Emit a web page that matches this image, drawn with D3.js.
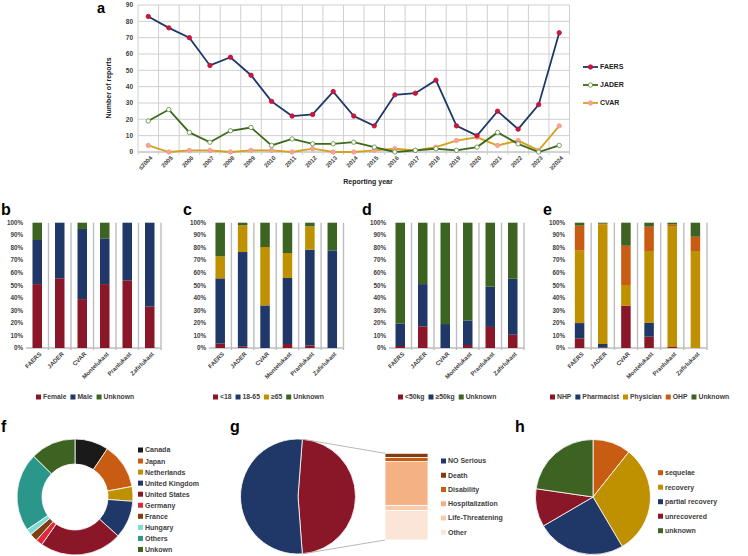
<!DOCTYPE html>
<html>
<head>
<meta charset="utf-8">
<script src="https://cdn.jsdelivr.net/npm/d3@7"></script>
<style>
  body { margin: 0; background: #fff; }
  svg { display: block; font-family: "Liberation Sans", Arial, sans-serif; font-weight: bold; }
</style>
</head>
<body>
<svg width="748" height="556"></svg>
<script>
// ---- data ----
const years = ["≤2004", "2005", "2006", "2007", "2008", "2009", "2010", "2011", "2012", "2013",
  "2014", "2015", "2016", "2017", "2018", "2019", "2020", "2021", "2022", "2023", "≥2024"];
const faersCounts = [83, 76, 70, 53, 58, 47, 31, 22, 23, 37, 22, 16, 35, 36, 44, 16, 10, 25, 14, 29, 73];
const jaderCounts = [19, 26, 12, 6, 13, 15, 4, 8, 5, 5, 6, 3, 0, 1, 2, 1, 3, 12, 5, 0, 4];
const cvarCounts = [4, 0, 1, 1, 0, 1, 1, 0, 2, 0, 0, 1, 2, 1, 3, 7, 9, 4, 7, 1, 16];
const yTicksA = [0, 10, 20, 30, 40, 50, 60, 70, 80, 90];

const groups = ["FAERS", "JADER", "CVAR", "Montelukast", "Pranlukast", "Zafirlukast"];

const sexKeys = ["Female", "Male", "Unknown"];
const sexFemale = [51, 55.6, 39, 51, 54, 33];
const sexMale = [35.2, 44.4, 56, 36.5, 46, 67];
const sexUnknown = [13.8, 0, 5, 12.5, 0, 0];

const ageKeys = ["<18", "18-65", "≥65", "Unknown"];
const ageUnder18 = [3.5, 1, 0, 3.2, 2.1, 0];
const age18to65 = [52.1, 75.6, 34, 52.7, 76.4, 77.9];
const age65plus = [17.5, 21.3, 46.6, 19.9, 18.6, 0];
const ageUnknown = [26.9, 2.1, 19.4, 24.2, 2.9, 22.1];

const weightKeys = ["<50kg", "≥50kg", "Unknown"];
const weightUnder50 = [1.6, 17.3, 0, 2.4, 16.8, 10.6];
const weight50plus = [17.8, 33.7, 19.1, 19.6, 32.1, 44.7];
const weightUnknown = [80.6, 49, 80.9, 78, 51.1, 44.7];

const reporterKeys = ["NHP", "Pharmacist", "Physician", "OHP", "Unknown"];
const repNHP = [7.7, 0.5, 33.8, 9, 0.8, 0];
const repPharmacist = [12.2, 2.7, 0, 11, 0, 0];
const repPhysician = [57.8, 95.5, 16.5, 57.4, 96.5, 77.4];
const repOHP = [19.9, 0.5, 31.3, 19.4, 1.4, 11.4];
const repUnknown = [2.4, 0.8, 18.4, 3.2, 1.3, 11.2];

const countries = ["Canada", "Japan", "Netherlands", "United Kingdom", "United States",
  "Germany", "France", "Hungary", "Others", "Unkown"];
const countryShare = [9.4, 12.7, 4.1, 10.5, 23, 1.9, 2.2, 1.7, 21.9, 12.6];

const seriousness = ["Serious", "NO Serious"];
const seriousnessShare = [47.6, 52.4];
const seriousTypes = ["Other", "Life-Threatening", "Hospitalization", "Disability", "Death"];
const seriousTypeShare = [34, 6, 50.4, 4.8, 4.8];

const outcomes = ["sequelae", "recovery", "partial recovery", "unrecovered", "unknown"];
const outcomeShare = [10.7, 30.8, 25.1, 10.7, 22.7];

// ---- colours ----
const RED = "#8a1728", NAVY = "#1f3868", GREEN = "#3d6322", GOLD = "#bf9000",
  ORANGE = "#c85c12", TEXT = "#404040", GRID = "#cfcfcf";

const svg = d3.select("svg");
svg.append("rect").attr("width", 748).attr("height", 556).attr("fill", "#fff");

function panelLabel(t, x, y) {
  svg.append("text").attr("x", x).attr("y", y).attr("font-size", 16)
    .attr("fill", "#000").text(t);
}

// horizontal legend with small squares
function rowLegend(items, colors, x0, y, size) {
  let x = x0;
  items.forEach((name, i) => {
    svg.append("rect").attr("x", x).attr("y", y - 2.5).attr("width", 5).attr("height", 5)
      .attr("fill", colors[i]);
    const t = svg.append("text").attr("x", x + 7).attr("y", y).attr("dy", "0.35em")
      .attr("font-size", size).attr("fill", TEXT).text(name);
    x += 7 + t.node().getComputedTextLength() + 4;
  });
}

function columnLegend(items, colors, x0, y0, step) {
  items.forEach((name, i) => {
    const y = y0 + i * step;
    svg.append("rect").attr("x", x0).attr("y", y - 2.5).attr("width", 5).attr("height", 5)
      .attr("fill", colors[i]);
    svg.append("text").attr("x", x0 + 7).attr("y", y).attr("dy", "0.35em")
      .attr("font-size", 7).attr("fill", TEXT).text(name);
  });
}

// ---- panel a: line chart ----
svg.append("text").attr("x", 97).attr("y", 12.5).attr("font-size", 14.5)
  .attr("fill", "#000").text("a");
const xA = d3.scaleBand().domain(years).range([138, 569.5]);
const yA = d3.scaleLinear().domain([0, 90]).range([152, 5]);
const gA = svg.append("g");

gA.selectAll(".hg").data(yTicksA).join("line")
  .attr("x1", 138).attr("x2", 569.5)
  .attr("y1", d => yA(d)).attr("y2", d => yA(d))
  .attr("stroke", d => d === 0 ? "#a6a6a6" : GRID).attr("stroke-width", 1);
const bounds = years.map(d => xA(d)).concat([569.5]);
gA.selectAll(".vg").data(bounds).join("line")
  .attr("x1", d => d).attr("x2", d => d)
  .attr("y1", 5).attr("y2", 155)
  .attr("stroke", GRID).attr("stroke-width", 1);

gA.selectAll(".yl").data(yTicksA).join("text")
  .attr("x", 133).attr("y", d => yA(d)).attr("dy", "0.35em")
  .attr("text-anchor", "end").attr("font-size", 6.5).attr("fill", TEXT).text(d => d);

gA.selectAll(".xl").data(years).join("text")
  .attr("transform", d => `translate(${xA(d) + xA.bandwidth() / 2 + 3},157) rotate(-45)`)
  .attr("text-anchor", "end").attr("dy", "0.35em")
  .attr("font-size", 6).attr("fill", TEXT).text(d => d);

svg.append("text").attr("x", 368).attr("y", 184).attr("text-anchor", "middle")
  .attr("font-size", 7).attr("fill", "#222").text("Reporting year");
svg.append("text").attr("transform", "translate(111,88) rotate(-90)")
  .attr("text-anchor", "middle").attr("font-size", 7).attr("fill", "#222")
  .text("Number of reports");

const lineSeries = [
  { name: "FAERS", values: faersCounts, stroke: NAVY, fill: "#d4143c", mstroke: "#b0103a" },
  { name: "JADER", values: jaderCounts, stroke: "#3b6a1c", fill: "#fff", mstroke: "#5a8a35" },
  { name: "CVAR", values: cvarCounts, stroke: "#d6a11c", fill: "#f7a0a0", mstroke: "#f29a8c" }
];
const lineGen = d3.line()
  .x((d, i) => xA(years[i]) + xA.bandwidth() / 2)
  .y(d => yA(d));

// draw CVAR first so FAERS stays on top
lineSeries.slice().reverse().forEach(s => {
  gA.append("path").attr("d", lineGen(s.values)).attr("fill", "none")
    .attr("stroke", s.stroke).attr("stroke-width", 1.8);
  gA.selectAll(null).data(s.values).join("circle")
    .attr("cx", (d, i) => xA(years[i]) + xA.bandwidth() / 2)
    .attr("cy", d => yA(d)).attr("r", 2.2)
    .attr("fill", s.fill).attr("stroke", s.mstroke).attr("stroke-width", 0.8);
});

lineSeries.forEach((s, i) => {
  const y = 67 + i * 18;
  svg.append("line").attr("x1", 583).attr("x2", 598).attr("y1", y).attr("y2", y)
    .attr("stroke", s.stroke).attr("stroke-width", 1.8);
  svg.append("circle").attr("cx", 590.5).attr("cy", y).attr("r", 2.2)
    .attr("fill", s.fill).attr("stroke", s.mstroke).attr("stroke-width", 0.8);
  svg.append("text").attr("x", 600).attr("y", y).attr("dy", "0.35em")
    .attr("font-size", 7).attr("fill", "#222").text(s.name);
});

// ---- panels b-e: 100% stacked bars ----
const top100 = 222.7, bottom0 = 348;

function stackPanel(cfg) {
  const rows = groups.map((g, i) => {
    const r = { group: g };
    cfg.keys.forEach((k, j) => r[k] = cfg.series[j][i]);
    return r;
  });
  const stacked = d3.stack().keys(cfg.keys).offset(d3.stackOffsetExpand)(rows);
  const x = d3.scaleBand().domain(groups).range([cfg.left, cfg.left + cfg.width]);
  const y = d3.scaleLinear().domain([0, 1]).range([bottom0, top100]);
  const g = svg.append("g");

  g.selectAll(".sep").data(groups).join("line")
    .attr("x1", d => x(d) + x.bandwidth()).attr("x2", d => x(d) + x.bandwidth())
    .attr("y1", top100).attr("y2", bottom0 + 2)
    .attr("stroke", "#bdbdbd").attr("stroke-width", 1.4);
  g.append("line").attr("x1", cfg.left).attr("x2", cfg.left + cfg.width)
    .attr("y1", bottom0).attr("y2", bottom0).attr("stroke", "#bdbdbd").attr("stroke-width", 1.4);

  g.selectAll(".yl").data(y.ticks(10)).join("text")
    .attr("x", cfg.left - 3).attr("y", d => y(d)).attr("dy", "0.35em")
    .attr("text-anchor", "end").attr("font-size", 6.3).attr("fill", TEXT)
    .text(d3.format(".0%"));

  const bw = 9.5;
  g.selectAll(".layer").data(stacked).join("g")
    .attr("fill", (d, i) => cfg.colors[i])
    .selectAll("rect").data(d => d).join("rect")
    .attr("x", d => x(d.data.group) + x.bandwidth() / 2 - bw / 2)
    .attr("y", d => y(d[1]))
    .attr("width", bw)
    .attr("height", d => y(d[0]) - y(d[1]));

  g.selectAll(".xl").data(groups).join("text")
    .attr("transform", d => `translate(${x(d) + x.bandwidth() / 2 + 3},${bottom0 + 5}) rotate(-45)`)
    .attr("text-anchor", "end").attr("dy", "0.35em")
    .attr("font-size", 6).attr("fill", TEXT).text(d => d);

  rowLegend(cfg.keys, cfg.colors, cfg.legendX, 397, 6.8);
}

panelLabel("b", 1, 215);
stackPanel({ left: 26, width: 135, keys: sexKeys,
  series: [sexFemale, sexMale, sexUnknown], colors: [RED, NAVY, GREEN], legendX: 36 });
panelLabel("c", 183, 215);
stackPanel({ left: 209, width: 134.5, keys: ageKeys,
  series: [ageUnder18, age18to65, age65plus, ageUnknown], colors: [RED, NAVY, GOLD, GREEN], legendX: 213 });
panelLabel("d", 362, 215);
stackPanel({ left: 389, width: 135, keys: weightKeys,
  series: [weightUnder50, weight50plus, weightUnknown], colors: [RED, NAVY, GREEN], legendX: 398 });
panelLabel("e", 543, 215);
stackPanel({ left: 568, width: 139, keys: reporterKeys,
  series: [repNHP, repPharmacist, repPhysician, repOHP, repUnknown],
  colors: [RED, NAVY, GOLD, ORANGE, GREEN], legendX: 550 });

// ---- panel f: donut ----
panelLabel("f", 1, 432);
const countryColors = ["#1a1a1a", ORANGE, GOLD, NAVY, RED, "#e0283c", "#7f3f12", "#7fdcd4", "#2a978a", GREEN];
const pieF = d3.pie().sort(null)(countryShare);
const arcF = d3.arc().innerRadius(33).outerRadius(58);
svg.append("g").attr("transform", "translate(75,497)")
  .selectAll("path").data(pieF).join("path")
  .attr("d", arcF).attr("fill", (d, i) => countryColors[i])
  .attr("stroke", "#fff").attr("stroke-width", 0.8);
columnLegend(countries, countryColors, 138, 450, 11.05);

// ---- panel g: pie with stacked bar ----
panelLabel("g", 230, 432);
const gcx = 298, gcy = 496.5, gr = 57.5;
const seriousAngle = 2 * Math.PI * seriousnessShare[0] / d3.sum(seriousnessShare);
const a0 = Math.PI / 2 - seriousAngle / 2;
const pieG = d3.pie().sort(null).startAngle(a0).endAngle(a0 + 2 * Math.PI)(seriousnessShare);
const arcG = d3.arc().innerRadius(0).outerRadius(gr);
svg.append("g").attr("transform", `translate(${gcx},${gcy})`)
  .selectAll("path").data(pieG).join("path")
  .attr("d", arcG).attr("fill", (d, i) => [RED, NAVY][i])
  .attr("stroke", "#fff").attr("stroke-width", 0.8);

const barX = 385, barW = 43;
const yG = d3.scaleLinear().domain([0, d3.sum(seriousTypeShare)]).range([540, 453.3]);
const typeColors = ["#fbe5d6", "#f8cbad", "#f4b183", ORANGE, "#843c0c"];
let acc = 0;
seriousTypeShare.forEach((v, i) => {
  svg.append("rect").attr("x", barX).attr("width", barW)
    .attr("y", yG(acc + v)).attr("height", yG(acc) - yG(acc + v))
    .attr("fill", typeColors[i]).attr("stroke", "#fff").attr("stroke-width", 0.8);
  acc += v;
});
const pTop = [gcx + gr * Math.sin(pieG[0].startAngle), gcy - gr * Math.cos(pieG[0].startAngle)];
const pBot = [gcx + gr * Math.sin(pieG[0].endAngle), gcy - gr * Math.cos(pieG[0].endAngle)];
svg.append("line").attr("x1", pTop[0]).attr("y1", pTop[1]).attr("x2", barX).attr("y2", yG.range()[1])
  .attr("stroke", "#a6a6a6").attr("stroke-width", 0.8);
svg.append("line").attr("x1", pBot[0]).attr("y1", pBot[1]).attr("x2", barX).attr("y2", yG.range()[0])
  .attr("stroke", "#a6a6a6").attr("stroke-width", 0.8);

columnLegend(["NO Serious"].concat(seriousTypes.slice().reverse()),
  [NAVY].concat(typeColors.slice().reverse()), 441, 461, 14.25);

// ---- panel h: outcome pie ----
panelLabel("h", 515, 432);
const outcomeColors = [ORANGE, GOLD, NAVY, RED, GREEN];
const pieH = d3.pie().sort(null)(outcomeShare);
svg.append("g").attr("transform", "translate(593,497)")
  .selectAll("path").data(pieH).join("path")
  .attr("d", d3.arc().innerRadius(0).outerRadius(57.5)).attr("fill", (d, i) => outcomeColors[i])
  .attr("stroke", "#fff").attr("stroke-width", 0.8);
columnLegend(outcomes, outcomeColors, 658, 472.7, 14.5);
</script>
</body>
</html>
